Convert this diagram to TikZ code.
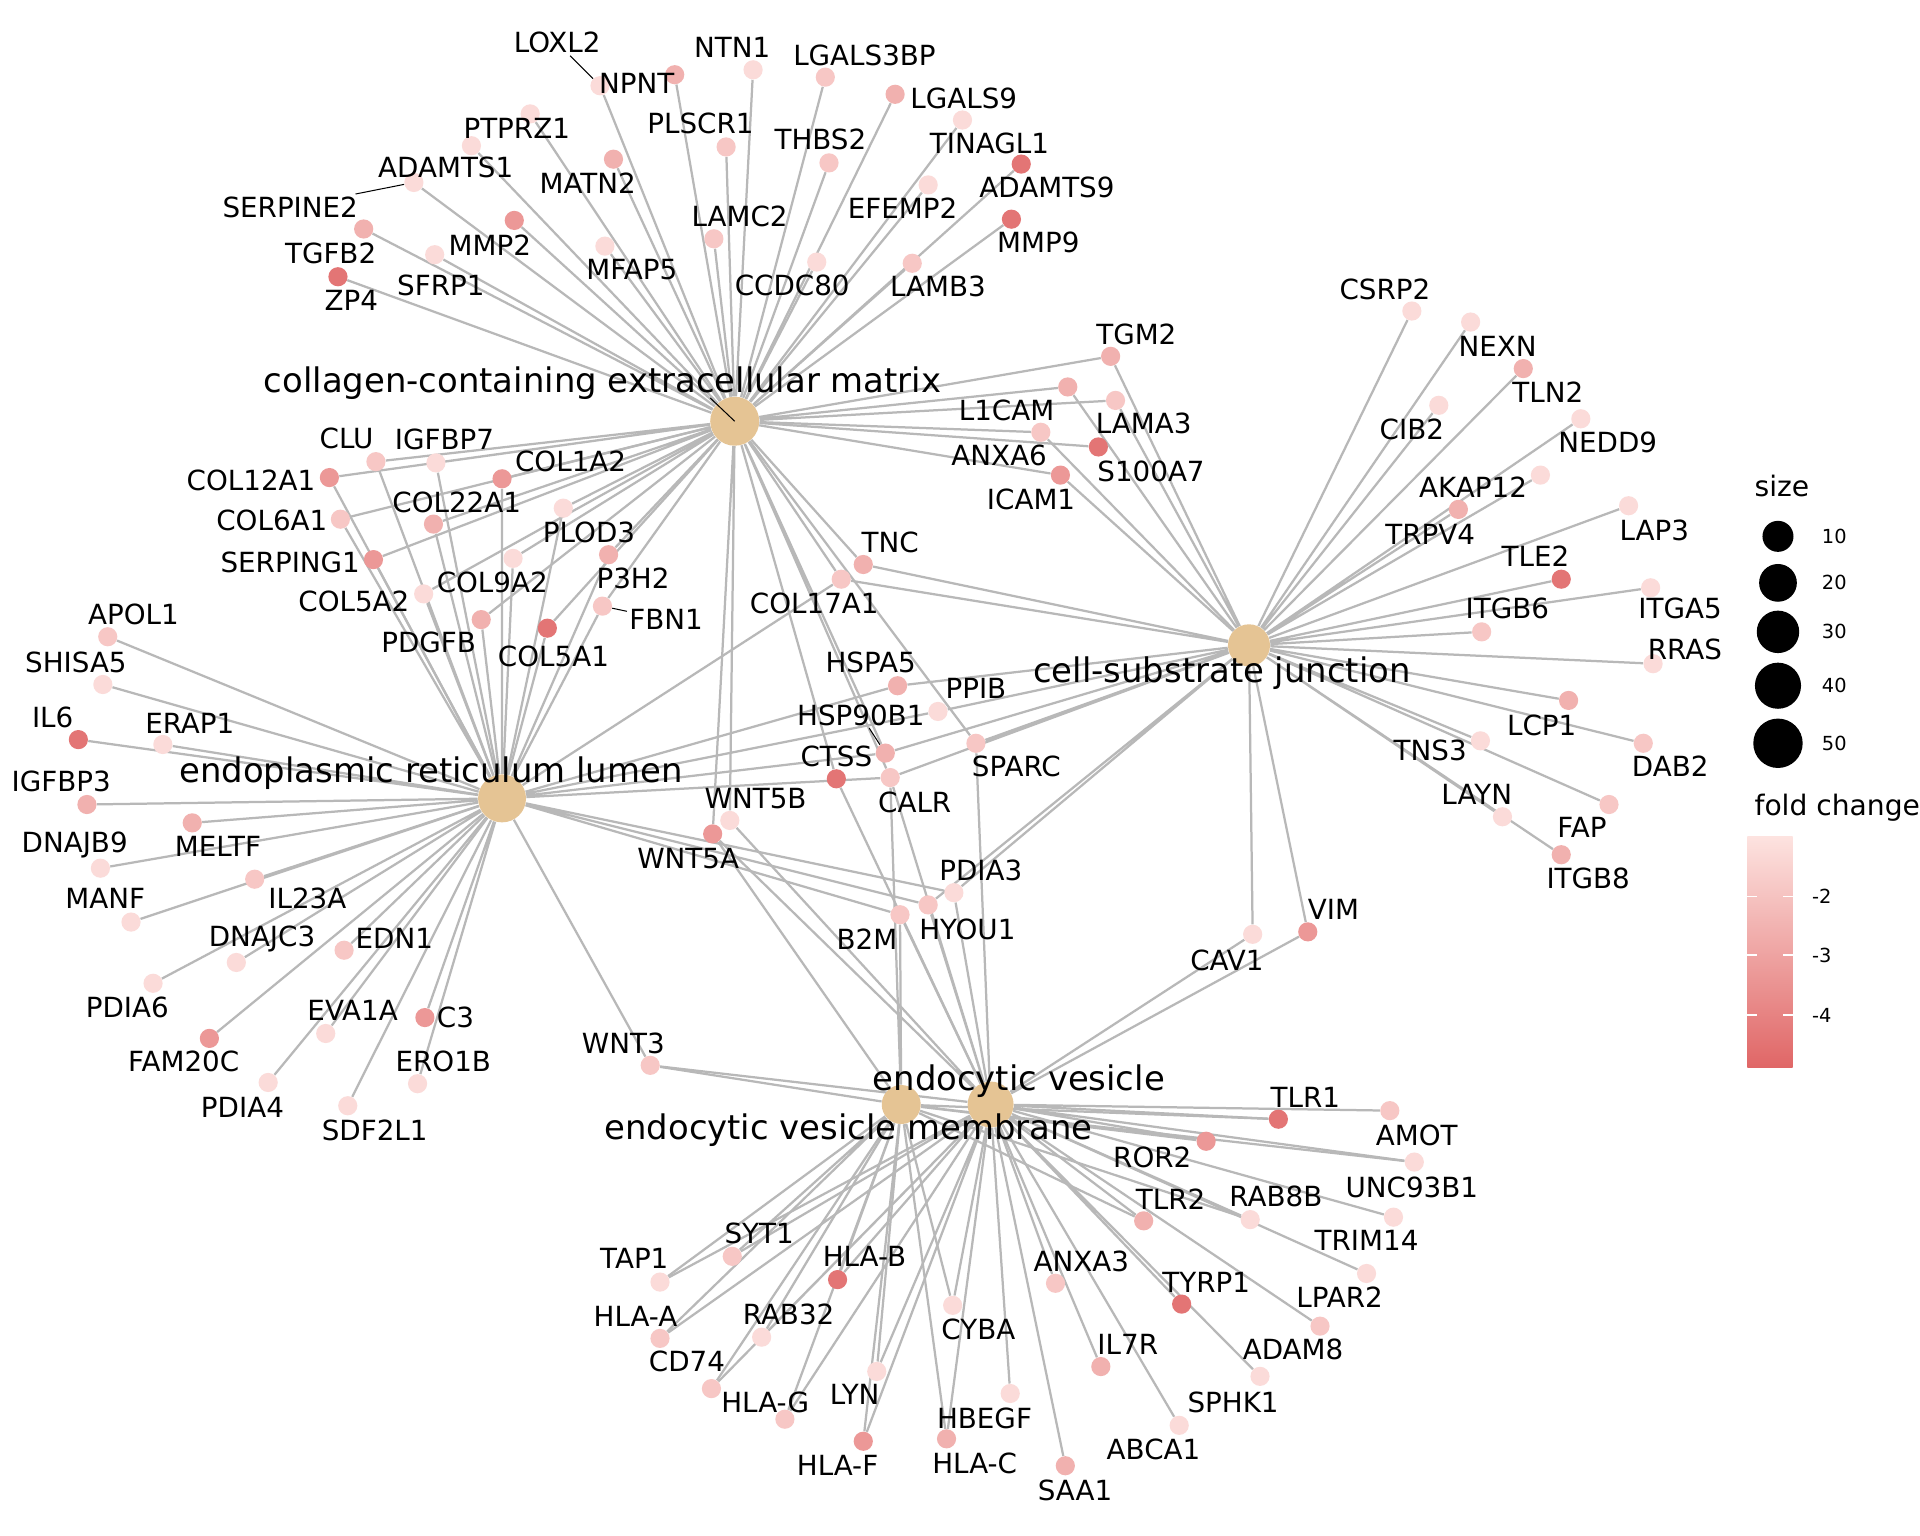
\documentclass[tikz,border=0pt]{standalone}
\usepackage{fontspec}
\setmainfont{DejaVu Sans}
\usetikzlibrary{backgrounds}
\definecolor{fcDark}{HTML}{E06666}
\definecolor{fcLight}{HTML}{FDE3E0}
\definecolor{catFill}{HTML}{E5C494}
\definecolor{edgeGray}{HTML}{B8B8B8}
\newcommand{\genefont}{\fontsize{13.6}{16}\selectfont}
\newcommand{\catfont}{\fontsize{16.6}{20}\selectfont}
\newcommand{\legfont}{\fontsize{13.8}{16}\selectfont}
\newcommand{\tickfont}{\fontsize{9.5}{11}\selectfont}

\begin{document}
\begin{tikzpicture}[x=0.6pt,y=-0.6pt,
    gene/.style={circle,inner sep=0pt,minimum size=9.4pt},
    fc1/.style={fill=fcDark!6!fcLight},
    fc2/.style={fill=fcDark!22!fcLight},
    fc3/.style={fill=fcDark!40!fcLight},
    fc4/.style={fill=fcDark!60!fcLight},
    fc5/.style={fill=fcDark!88!fcLight},
    cat/.style={circle,inner sep=0pt,fill=catFill},
    glabel/.style={font=\genefont,inner sep=1pt},
    clabel/.style={font=\catfont,inner sep=1pt},
    edge/.style={draw=edgeGray,line width=1.1pt},
    seg/.style={draw=black,line width=0.5pt},
    legdot/.style={circle,fill=black,inner sep=0pt}]
  \useasboundingbox (0,0) rectangle (1568,1254);

  % categories
  \node[cat,minimum size=24pt] (CCM) at (600,344) {};
  \node[cat,minimum size=20.6pt] (CSJ) at (1020,527) {};
  \node[cat,minimum size=23.5pt] (ERL) at (410,652) {};
  \node[cat,minimum size=22.5pt] (EV) at (809,902) {};
  \node[cat,minimum size=19.1pt] (EVM) at (736,902) {};

  % collagen-containing extracellular matrix only
  \node[gene,fc1] (LOXL2) at (490,70) {};
  \node[gene,fc3] (NPNT) at (551,61) {};
  \node[gene,fc1] (NTN1) at (615,57) {};
  \node[gene,fc2] (LGALS3BP) at (674,63) {};
  \node[gene,fc3] (LGALS9) at (731,77) {};
  \node[gene,fc1] (TINAGL1) at (786,98) {};
  \node[gene,fc5] (ADAMTS9) at (834,134) {};
  \node[gene,fc5] (MMP9) at (826,179) {};
  \node[gene,fc2] (THBS2) at (677,133) {};
  \node[gene,fc2] (PLSCR1) at (593,120) {};
  \node[gene,fc3] (MATN2) at (501,130) {};
  \node[gene,fc1] (PTPRZ1) at (433,93) {};
  \node[gene,fc1] (ADAMTS1) at (385,119) {};
  \node[gene,fc1] (SERPINE2) at (338,149) {};
  \node[gene,fc3] (TGFB2) at (297,187) {};
  \node[gene,fc1] (SFRP1) at (355,208) {};
  \node[gene,fc5] (ZP4) at (276,226) {};
  \node[gene,fc4] (MMP2) at (420,180) {};
  \node[gene,fc1] (MFAP5) at (494,201) {};
  \node[gene,fc2] (LAMC2) at (583,195) {};
  \node[gene,fc1] (CCDC80) at (667,214) {};
  \node[gene,fc1] (EFEMP2) at (758,151) {};
  \node[gene,fc2] (LAMB3) at (745,215) {};
  \node[gene,fc5] (S100A7) at (897,365) {};

  % collagen-containing extracellular matrix and cell-substrate junction
  \node[gene,fc3] (TGM2) at (907,291) {};
  \node[gene,fc3] (L1CAM) at (872,316) {};
  \node[gene,fc2] (LAMA3) at (911,327) {};
  \node[gene,fc2] (ANXA6) at (850,353) {};
  \node[gene,fc4] (ICAM1) at (866,388) {};
  \node[gene,fc3] (TNC) at (705,461) {};
  \node[gene,fc2] (COL17A1) at (687,473) {};

  % collagen-containing extracellular matrix and ER lumen
  \node[gene,fc2] (CLU) at (307,377) {};
  \node[gene,fc1] (IGFBP7) at (356,378) {};
  \node[gene,fc4] (COL12A1) at (269,390) {};
  \node[gene,fc4] (COL1A2) at (410,391) {};
  \node[gene,fc3] (COL22A1) at (354,428) {};
  \node[gene,fc2] (COL6A1) at (278,424) {};
  \node[gene,fc1] (PLOD3) at (460,415) {};
  \node[gene,fc4] (SERPING1) at (305,457) {};
  \node[gene,fc1] (COL9A2) at (419,456) {};
  \node[gene,fc3] (P3H2) at (497,453) {};
  \node[gene,fc1] (COL5A2) at (346,485) {};
  \node[gene,fc2] (FBN1) at (492,495) {};
  \node[gene,fc3] (PDGFB) at (393,506) {};
  \node[gene,fc5] (COL5A1) at (447,513) {};

  % between the groups
  \node[gene,fc3] (HSPA5) at (733,560) {};
  \node[gene,fc1] (PPIB) at (766,581) {};
  \node[gene,fc3] (HSP90B1) at (723,615) {};
  \node[gene,fc2] (CALR) at (727,635) {};
  \node[gene,fc5] (CTSS) at (683,636) {};
  \node[gene,fc2] (SPARC) at (797,607) {};
  \node[gene,fc1] (WNT5B) at (596,670) {};
  \node[gene,fc4] (WNT5A) at (582,681) {};
  \node[gene,fc1] (PDIA3) at (779,729) {};
  \node[gene,fc2] (HYOU1) at (758,739) {};
  \node[gene,fc2] (B2M) at (735,747) {};
  \node[gene,fc1] (CAV1) at (1023,763) {};
  \node[gene,fc4] (VIM) at (1068,761) {};
  \node[gene,fc2] (WNT3) at (531,870) {};

  % cell-substrate junction only
  \node[gene,fc1] (CSRP2) at (1153,254) {};
  \node[gene,fc1] (NEXN) at (1201,263) {};
  \node[gene,fc3] (TLN2) at (1244,301) {};
  \node[gene,fc1] (CIB2) at (1175,331) {};
  \node[gene,fc1] (NEDD9) at (1291,342) {};
  \node[gene,fc1] (AKAP12) at (1258,388) {};
  \node[gene,fc3] (TRPV4) at (1191,416) {};
  \node[gene,fc1] (LAP3) at (1330,413) {};
  \node[gene,fc5] (TLE2) at (1275,473) {};
  \node[gene,fc1] (ITGA5) at (1348,480) {};
  \node[gene,fc2] (ITGB6) at (1210,516) {};
  \node[gene,fc1] (RRAS) at (1350,542) {};
  \node[gene,fc3] (LCP1) at (1281,572) {};
  \node[gene,fc2] (DAB2) at (1342,607) {};
  \node[gene,fc1] (TNS3) at (1209,605) {};
  \node[gene,fc2] (FAP) at (1314,657) {};
  \node[gene,fc1] (LAYN) at (1227,667) {};
  \node[gene,fc3] (ITGB8) at (1275,698) {};

  % ER lumen only
  \node[gene,fc2] (APOL1) at (88,520) {};
  \node[gene,fc1] (SHISA5) at (84,559) {};
  \node[gene,fc5] (IL6) at (64,604) {};
  \node[gene,fc1] (ERAP1) at (133,608) {};
  \node[gene,fc3] (IGFBP3) at (71,657) {};
  \node[gene,fc3] (MELTF) at (157,672) {};
  \node[gene,fc1] (DNAJB9) at (82,709) {};
  \node[gene,fc2] (IL23A) at (208,718) {};
  \node[gene,fc1] (MANF) at (107,753) {};
  \node[gene,fc1] (DNAJC3) at (193,786) {};
  \node[gene,fc2] (EDN1) at (281,776) {};
  \node[gene,fc1] (PDIA6) at (125,803) {};
  \node[gene,fc1] (EVA1A) at (266,844) {};
  \node[gene,fc4] (C3) at (347,831) {};
  \node[gene,fc4] (FAM20C) at (171,848) {};
  \node[gene,fc1] (ERO1B) at (341,885) {};
  \node[gene,fc1] (PDIA4) at (219,884) {};
  \node[gene,fc1] (SDF2L1) at (284,903) {};

  % endocytic vesicle (membrane)
  \node[gene,fc5] (TLR1) at (1044,914) {};
  \node[gene,fc2] (AMOT) at (1135,907) {};
  \node[gene,fc4] (ROR2) at (985,932) {};
  \node[gene,fc1] (UNC93B1) at (1155,949) {};
  \node[gene,fc1] (RAB8B) at (1021,996) {};
  \node[gene,fc3] (TLR2) at (934,997) {};
  \node[gene,fc1] (TRIM14) at (1138,994) {};
  \node[gene,fc1] (LPAR2) at (1116,1040) {};
  \node[gene,fc5] (TYRP1) at (965,1065) {};
  \node[gene,fc2] (ADAM8) at (1078,1083) {};
  \node[gene,fc2] (ANXA3) at (862,1048) {};
  \node[gene,fc1] (SPHK1) at (1029,1124) {};
  \node[gene,fc3] (IL7R) at (899,1116) {};
  \node[gene,fc1] (ABCA1) at (963,1164) {};
  \node[gene,fc3] (SAA1) at (870,1197) {};
  \node[gene,fc1] (CYBA) at (778,1066) {};
  \node[gene,fc1] (HBEGF) at (825,1138) {};
  \node[gene,fc3] (HLAC) at (773,1175) {};
  \node[gene,fc4] (HLAF) at (705,1177) {};
  \node[gene,fc1] (LYN) at (716,1120) {};
  \node[gene,fc5] (HLAB) at (684,1045) {};
  \node[gene,fc1] (RAB32) at (622,1092) {};
  \node[gene,fc2] (HLAG) at (641,1159) {};
  \node[gene,fc2] (CD74) at (581,1134) {};
  \node[gene,fc2] (HLAA) at (539,1093) {};
  \node[gene,fc2] (SYT1) at (598,1026) {};
  \node[gene,fc1] (TAP1) at (539,1047) {};

  \begin{pgfonlayer}{background}
    \fill[white] (0,0) rectangle (1568,1254);
    % collagen-containing extracellular matrix
    \draw[edge] (CCM) -- (LOXL2) (CCM) -- (NPNT) (CCM) -- (NTN1) (CCM) -- (LGALS3BP);
    \draw[edge] (CCM) -- (LGALS9) (CCM) -- (TINAGL1) (CCM) -- (ADAMTS9) (CCM) -- (MMP9);
    \draw[edge] (CCM) -- (THBS2) (CCM) -- (PLSCR1) (CCM) -- (MATN2) (CCM) -- (PTPRZ1);
    \draw[edge] (CCM) -- (ADAMTS1) (CCM) -- (SERPINE2) (CCM) -- (TGFB2) (CCM) -- (SFRP1);
    \draw[edge] (CCM) -- (ZP4) (CCM) -- (MMP2) (CCM) -- (MFAP5) (CCM) -- (LAMC2);
    \draw[edge] (CCM) -- (CCDC80) (CCM) -- (EFEMP2) (CCM) -- (LAMB3) (CCM) -- (S100A7);
    \draw[edge] (CCM) -- (TGM2) (CCM) -- (L1CAM) (CCM) -- (LAMA3) (CCM) -- (ANXA6);
    \draw[edge] (CCM) -- (ICAM1) (CCM) -- (TNC) (CCM) -- (COL17A1);
    \draw[edge] (CCM) -- (CLU) (CCM) -- (IGFBP7) (CCM) -- (COL12A1) (CCM) -- (COL1A2);
    \draw[edge] (CCM) -- (COL22A1) (CCM) -- (COL6A1) (CCM) -- (PLOD3) (CCM) -- (SERPING1);
    \draw[edge] (CCM) -- (COL9A2) (CCM) -- (P3H2) (CCM) -- (COL5A2) (CCM) -- (FBN1);
    \draw[edge] (CCM) -- (PDGFB) (CCM) -- (COL5A1);
    \draw[edge] (CCM) -- (HSP90B1) (CCM) -- (CALR) (CCM) -- (CTSS) (CCM) -- (SPARC);
    \draw[edge] (CCM) -- (WNT5B) (CCM) -- (WNT5A);
    % cell-substrate junction
    \draw[edge] (CSJ) -- (TGM2) (CSJ) -- (L1CAM) (CSJ) -- (LAMA3) (CSJ) -- (ANXA6);
    \draw[edge] (CSJ) -- (ICAM1) (CSJ) -- (TNC) (CSJ) -- (COL17A1) (CSJ) -- (HSPA5);
    \draw[edge] (CSJ) -- (PPIB) (CSJ) -- (HSP90B1) (CSJ) -- (CALR) (CSJ) -- (SPARC);
    \draw[edge] (CSJ) -- (PDIA3) (CSJ) -- (HYOU1) (CSJ) -- (CAV1) (CSJ) -- (VIM);
    \draw[edge] (CSJ) -- (CSRP2) (CSJ) -- (NEXN) (CSJ) -- (TLN2) (CSJ) -- (CIB2);
    \draw[edge] (CSJ) -- (NEDD9) (CSJ) -- (AKAP12) (CSJ) -- (TRPV4) (CSJ) -- (LAP3);
    \draw[edge] (CSJ) -- (TLE2) (CSJ) -- (ITGA5) (CSJ) -- (ITGB6) (CSJ) -- (RRAS);
    \draw[edge] (CSJ) -- (LCP1) (CSJ) -- (DAB2) (CSJ) -- (TNS3) (CSJ) -- (FAP);
    \draw[edge] (CSJ) -- (LAYN) (CSJ) -- (ITGB8);
    % endoplasmic reticulum lumen
    \draw[edge] (ERL) -- (CLU) (ERL) -- (IGFBP7) (ERL) -- (COL12A1) (ERL) -- (COL1A2);
    \draw[edge] (ERL) -- (COL22A1) (ERL) -- (COL6A1) (ERL) -- (PLOD3) (ERL) -- (SERPING1);
    \draw[edge] (ERL) -- (COL9A2) (ERL) -- (P3H2) (ERL) -- (COL5A2) (ERL) -- (FBN1);
    \draw[edge] (ERL) -- (PDGFB) (ERL) -- (COL5A1) (ERL) -- (COL17A1);
    \draw[edge] (ERL) -- (APOL1) (ERL) -- (SHISA5) (ERL) -- (IL6) (ERL) -- (ERAP1);
    \draw[edge] (ERL) -- (IGFBP3) (ERL) -- (MELTF) (ERL) -- (DNAJB9) (ERL) -- (IL23A);
    \draw[edge] (ERL) -- (MANF) (ERL) -- (DNAJC3) (ERL) -- (EDN1) (ERL) -- (PDIA6);
    \draw[edge] (ERL) -- (EVA1A) (ERL) -- (C3) (ERL) -- (FAM20C) (ERL) -- (ERO1B);
    \draw[edge] (ERL) -- (PDIA4) (ERL) -- (SDF2L1) (ERL) -- (WNT3);
    \draw[edge] (ERL) -- (HSPA5) (ERL) -- (PPIB) (ERL) -- (HSP90B1) (ERL) -- (CALR);
    \draw[edge] (ERL) -- (PDIA3) (ERL) -- (HYOU1) (ERL) -- (B2M);
    % endocytic vesicle
    \draw[edge] (EV) -- (WNT5B) (EV) -- (WNT5A) (EV) -- (CTSS) (EV) -- (SPARC);
    \draw[edge] (EV) -- (CALR) (EV) -- (PDIA3) (EV) -- (HYOU1) (EV) -- (B2M);
    \draw[edge] (EV) -- (CAV1) (EV) -- (VIM) (EV) -- (WNT3);
    \draw[edge] (EV) -- (TLR1) (EV) -- (AMOT) (EV) -- (ROR2) (EV) -- (UNC93B1);
    \draw[edge] (EV) -- (RAB8B) (EV) -- (TLR2) (EV) -- (TRIM14) (EV) -- (LPAR2);
    \draw[edge] (EV) -- (TYRP1) (EV) -- (ADAM8) (EV) -- (ANXA3) (EV) -- (SPHK1);
    \draw[edge] (EV) -- (IL7R) (EV) -- (ABCA1) (EV) -- (SAA1) (EV) -- (CYBA);
    \draw[edge] (EV) -- (HBEGF) (EV) -- (HLAC) (EV) -- (HLAF) (EV) -- (LYN);
    \draw[edge] (EV) -- (HLAB) (EV) -- (RAB32) (EV) -- (HLAG) (EV) -- (CD74);
    \draw[edge] (EV) -- (HLAA) (EV) -- (SYT1) (EV) -- (TAP1);
    % endocytic vesicle membrane
    \draw[edge] (EVM) -- (WNT5A) (EVM) -- (B2M) (EVM) -- (CALR) (EVM) -- (WNT3);
    \draw[edge] (EVM) -- (TLR1) (EVM) -- (ROR2) (EVM) -- (UNC93B1) (EVM) -- (RAB8B);
    \draw[edge] (EVM) -- (TLR2) (EVM) -- (CYBA) (EVM) -- (HLAC) (EVM) -- (HLAF);
    \draw[edge] (EVM) -- (LYN) (EVM) -- (HLAB) (EVM) -- (RAB32) (EVM) -- (HLAG);
    \draw[edge] (EVM) -- (CD74) (EVM) -- (HLAA) (EVM) -- (SYT1) (EVM) -- (TAP1);
  \end{pgfonlayer}

  % gene labels
  \node[glabel] (tLOXL2) at (455,35) {LOXL2};
  \node[glabel] (tNPNT) at (520,68) {NPNT};
  \node[glabel] (tNTN1) at (598,39) {NTN1};
  \node[glabel] (tLGALS3BP) at (706,45) {LGALS3BP};
  \node[glabel] (tLGALS9) at (787,80) {LGALS9};
  \node[glabel] (tTINAGL1) at (808,117) {TINAGL1};
  \node[glabel] (tADAMTS9) at (855,153) {ADAMTS9};
  \node[glabel] (tMMP9) at (848,198) {MMP9};
  \node[glabel] (tTHBS2) at (670,114) {THBS2};
  \node[glabel] (tPLSCR1) at (572,101) {PLSCR1};
  \node[glabel] (tMATN2) at (480,150) {MATN2};
  \node[glabel] (tPTPRZ1) at (422,105) {PTPRZ1};
  \node[glabel] (tADAMTS1) at (364,137) {ADAMTS1};
  \node[glabel] (tSERPINE2) at (237,169) {SERPINE2};
  \node[glabel] (tTGFB2) at (270,207) {TGFB2};
  \node[glabel] (tSFRP1) at (360,233) {SFRP1};
  \node[glabel] (tZP4) at (287,245) {ZP4};
  \node[glabel] (tMMP2) at (400,200) {MMP2};
  \node[glabel] (tMFAP5) at (516,220) {MFAP5};
  \node[glabel] (tLAMC2) at (604,177) {LAMC2};
  \node[glabel] (tCCDC80) at (647,233) {CCDC80};
  \node[glabel] (tEFEMP2) at (737,170) {EFEMP2};
  \node[glabel] (tLAMB3) at (766,234) {LAMB3};
  \node[glabel] (tS100A7) at (940,385) {S100A7};
  \node[glabel] (tTGM2) at (928,273) {TGM2};
  \node[glabel] (tL1CAM) at (822,335) {L1CAM};
  \node[glabel] (tLAMA3) at (934,346) {LAMA3};
  \node[glabel] (tANXA6) at (816,372) {ANXA6};
  \node[glabel] (tICAM1) at (842,408) {ICAM1};
  \node[glabel] (tTNC) at (727,443) {TNC};
  \node[glabel] (tCOL17A1) at (665,493) {COL17A1};
  \node[glabel] (tCLU) at (283,358) {CLU};
  \node[glabel] (tIGFBP7) at (363,359) {IGFBP7};
  \node[glabel] (tCOL12A1) at (205,392) {COL12A1};
  \node[glabel] (tCOL1A2) at (466,377) {COL1A2};
  \node[glabel] (tCOL22A1) at (373,410) {COL22A1};
  \node[glabel] (tCOL6A1) at (222,425) {COL6A1};
  \node[glabel] (tPLOD3) at (481,435) {PLOD3};
  \node[glabel] (tSERPING1) at (237,459) {SERPING1};
  \node[glabel] (tCOL9A2) at (402,476) {COL9A2};
  \node[glabel] (tP3H2) at (517,472) {P3H2};
  \node[glabel] (tCOL5A2) at (289,491) {COL5A2};
  \node[glabel] (tFBN1) at (544,506) {FBN1};
  \node[glabel] (tPDGFB) at (350,525) {PDGFB};
  \node[glabel] (tCOL5A1) at (452,536) {COL5A1};
  \node[glabel] (tHSPA5) at (711,541) {HSPA5};
  \node[glabel] (tPPIB) at (797,562) {PPIB};
  \node[glabel] (tHSP90B1) at (703,584) {HSP90B1};
  \node[glabel] (tCALR) at (747,655) {CALR};
  \node[glabel] (tCTSS) at (683,618) {CTSS};
  \node[glabel] (tSPARC) at (830,626) {SPARC};
  \node[glabel] (tWNT5B) at (617,652) {WNT5B};
  \node[glabel] (tWNT5A) at (562,701) {WNT5A};
  \node[glabel] (tPDIA3) at (801,711) {PDIA3};
  \node[glabel] (tHYOU1) at (790,759) {HYOU1};
  \node[glabel] (tB2M) at (708,767) {B2M};
  \node[glabel] (tCAV1) at (1002,784) {CAV1};
  \node[glabel] (tVIM) at (1089,743) {VIM};
  \node[glabel] (tWNT3) at (509,852) {WNT3};
  \node[glabel] (tCSRP2) at (1131,236) {CSRP2};
  \node[glabel] (tNEXN) at (1223,283) {NEXN};
  \node[glabel] (tTLN2) at (1264,320) {TLN2};
  \node[glabel] (tCIB2) at (1153,351) {CIB2};
  \node[glabel] (tNEDD9) at (1313,361) {NEDD9};
  \node[glabel] (tAKAP12) at (1203,398) {AKAP12};
  \node[glabel] (tTRPV4) at (1168,436) {TRPV4};
  \node[glabel] (tLAP3) at (1351,433) {LAP3};
  \node[glabel] (tTLE2) at (1254,454) {TLE2};
  \node[glabel] (tITGA5) at (1372,497) {ITGA5};
  \node[glabel] (tITGB6) at (1231,497) {ITGB6};
  \node[glabel] (tRRAS) at (1376,530) {RRAS};
  \node[glabel] (tLCP1) at (1259,592) {LCP1};
  \node[glabel] (tDAB2) at (1364,626) {DAB2};
  \node[glabel] (tTNS3) at (1168,613) {TNS3};
  \node[glabel] (tFAP) at (1292,676) {FAP};
  \node[glabel] (tLAYN) at (1206,649) {LAYN};
  \node[glabel] (tITGB8) at (1297,717) {ITGB8};
  \node[glabel] (tAPOL1) at (109,502) {APOL1};
  \node[glabel] (tSHISA5) at (62,541) {SHISA5};
  \node[glabel] (tIL6) at (43,586) {IL6};
  \node[glabel] (tERAP1) at (155,591) {ERAP1};
  \node[glabel] (tIGFBP3) at (50,638) {IGFBP3};
  \node[glabel] (tMELTF) at (178,691) {MELTF};
  \node[glabel] (tDNAJB9) at (61,690) {DNAJB9};
  \node[glabel] (tIL23A) at (251,734) {IL23A};
  \node[glabel] (tMANF) at (86,734) {MANF};
  \node[glabel] (tDNAJC3) at (214,767) {DNAJC3};
  \node[glabel] (tEDN1) at (322,766) {EDN1};
  \node[glabel] (tPDIA6) at (104,823) {PDIA6};
  \node[glabel] (tEVA1A) at (288,825) {EVA1A};
  \node[glabel] (tC3) at (372,831) {C3};
  \node[glabel] (tFAM20C) at (150,867) {FAM20C};
  \node[glabel] (tERO1B) at (362,867) {ERO1B};
  \node[glabel] (tPDIA4) at (198,904) {PDIA4};
  \node[glabel] (tSDF2L1) at (306,923) {SDF2L1};
  \node[glabel] (tTLR1) at (1066,896) {TLR1};
  \node[glabel] (tAMOT) at (1157,927) {AMOT};
  \node[glabel] (tROR2) at (941,945) {ROR2};
  \node[glabel] (tUNC93B1) at (1153,970) {UNC93B1};
  \node[glabel] (tRAB8B) at (1042,977) {RAB8B};
  \node[glabel] (tTLR2) at (956,979) {TLR2};
  \node[glabel] (tTRIM14) at (1116,1013) {TRIM14};
  \node[glabel] (tLPAR2) at (1094,1059) {LPAR2};
  \node[glabel] (tTYRP1) at (985,1047) {TYRP1};
  \node[glabel] (tADAM8) at (1056,1102) {ADAM8};
  \node[glabel] (tANXA3) at (883,1030) {ANXA3};
  \node[glabel] (tSPHK1) at (1007,1145) {SPHK1};
  \node[glabel] (tIL7R) at (921,1098) {IL7R};
  \node[glabel] (tABCA1) at (942,1184) {ABCA1};
  \node[glabel] (tSAA1) at (878,1217) {SAA1};
  \node[glabel] (tCYBA) at (799,1086) {CYBA};
  \node[glabel] (tHBEGF) at (804,1158) {HBEGF};
  \node[glabel] (tHLAC) at (796,1195) {HLA-C};
  \node[glabel] (tHLAF) at (684,1197) {HLA-F};
  \node[glabel] (tLYN) at (698,1139) {LYN};
  \node[glabel] (tHLAB) at (706,1026) {HLA-B};
  \node[glabel] (tRAB32) at (644,1073) {RAB32};
  \node[glabel] (tHLAG) at (625,1145) {HLA-G};
  \node[glabel] (tCD74) at (561,1112) {CD74};
  \node[glabel] (tHLAA) at (519,1075) {HLA-A};
  \node[glabel] (tSYT1) at (620,1007) {SYT1};
  \node[glabel] (tTAP1) at (518,1028) {TAP1};

  % category labels
  \node[clabel] (tCCM) at (492,313) {collagen-containing extracellular matrix};
  \node[clabel] (tCSJ) at (998,550) {cell-substrate junction};
  \node[clabel] (tERL) at (352,631) {endoplasmic reticulum lumen};
  \node[clabel] (tEV) at (832,883) {endocytic vesicle};
  \node[clabel] (tEVM) at (693,923) {endocytic vesicle membrane};

  % repel segments
  \coordinate (CCMseg) at (580,325);
  \draw[seg] (CCMseg) -- (CCM.center);
  \draw[seg] (tLOXL2) -- (LOXL2);
  \draw[seg] (tSERPINE2) -- (SERPINE2);
  \draw[seg] (tFBN1) -- (FBN1);
  \draw[seg] (tHSP90B1) -- (HSP90B1);

  % legend: size
  \node[font=\legfont,anchor=west] (sizeT) at (1427,397) {size};
  \node[legdot,minimum size=15.2pt] (s10) at (1452,438) {};
  \node[legdot,minimum size=18.5pt] (s20) at (1452,476) {};
  \node[legdot,minimum size=20.8pt] (s30) at (1452,516) {};
  \node[legdot,minimum size=22.6pt] (s40) at (1452,560) {};
  \node[legdot,minimum size=24.2pt] (s50) at (1452,607) {};
  \node[font=\tickfont] (n10) at (1498,438) {10};
  \node[font=\tickfont] (n20) at (1498,476) {20};
  \node[font=\tickfont] (n30) at (1498,516) {30};
  \node[font=\tickfont] (n40) at (1498,560) {40};
  \node[font=\tickfont] (n50) at (1498,607) {50};

  % legend: fold change
  \node[font=\legfont,anchor=west] (fcT) at (1427,660) {fold change};
  \shade[top color=fcLight,bottom color=fcDark] (1427,683) rectangle (1464,872);
  \draw[white,line width=0.7pt] (1427,732) -- (1435,732) (1456,732) -- (1464,732);
  \draw[white,line width=0.7pt] (1427,780) -- (1435,780) (1456,780) -- (1464,780);
  \draw[white,line width=0.7pt] (1427,829) -- (1435,829) (1456,829) -- (1464,829);
  \node[font=\tickfont,anchor=west] (m2) at (1474,732) {-2};
  \node[font=\tickfont,anchor=west] (m3) at (1474,780) {-3};
  \node[font=\tickfont,anchor=west] (m4) at (1474,829) {-4};
\end{tikzpicture}
\end{document}
